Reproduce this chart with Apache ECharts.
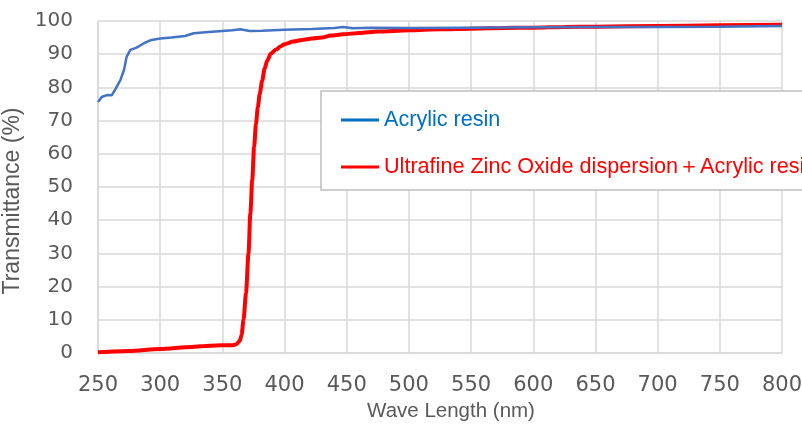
<!DOCTYPE html>
<html>
<head>
<meta charset="utf-8">
<script src="https://cdn.jsdelivr.net/npm/echarts@6/dist/echarts.min.js"></script>
<style>
  html, body { margin: 0; padding: 0; background: #fff; }
  #chart { width: 802px; height: 425px; }
</style>
</head>
<body>
<div id="chart"></div>
<script>
// ---- Data ----
const xTicks = [250, 300, 350, 400, 450, 500, 550, 600, 650, 700, 750, 800];
const yTicks = [0, 10, 20, 30, 40, 50, 60, 70, 80, 90, 100];

const seriesNames = ['Acrylic resin', 'Ultrafine Zinc Oxide dispersion\uFF0BAcrylic resin'];

// Acrylic resin
const acrylicWl = [250, 253, 257, 261, 264, 268, 271, 273, 276, 281, 287, 292, 300, 309, 320, 327, 339, 350, 358, 364.4, 365.7, 372, 382, 400, 422, 440, 447, 455, 470, 500, 550, 600, 650, 700, 750, 800];
const acrylicT  = [75.6, 77.1, 77.7, 77.6, 79.5, 82.2, 85.4, 89.2, 91.3, 92.0, 93.3, 94.2, 94.7, 95.0, 95.5, 96.3, 96.7, 97.0, 97.2, 97.5, 96.9, 97.0, 97.1, 97.4, 97.6, 97.9, 98.2, 97.8, 98.0, 97.9, 98.0, 98.1, 98.2, 98.2, 98.3, 98.5];

// Ultrafine Zinc Oxide dispersion + Acrylic resin
const zincWl = [250, 275, 300, 325, 340, 350, 358, 361, 364, 365.5, 367, 369, 371, 372.5, 374, 375.5, 377, 378.5, 380, 382, 384, 386, 389, 393, 397, 400, 407, 414, 422, 430, 437, 447, 460, 475, 500, 525, 550, 575, 600, 625, 650, 700, 750, 800];
const zincT  = [0.2, 0.6, 1.2, 1.8, 2.2, 2.3, 2.3, 2.6, 3.6, 5.5, 10, 18, 30, 42, 52, 62, 69, 74, 78, 82, 85.7, 88, 90.2, 91.4, 92.4, 93.0, 93.8, 94.3, 94.7, 95.0, 95.6, 96.0, 96.4, 96.8, 97.2, 97.5, 97.7, 97.9, 98.0, 98.2, 98.3, 98.5, 98.7, 98.9];

// ---- Build chart ----
const zip = (xs, ys) => xs.map((x, i) => [x, ys[i]]);
const gridColor = '#d9d9d9';
const textGray = '#595959';

const chart = echarts.init(document.getElementById('chart'), null, { renderer: 'canvas' });
chart.setOption({
  animation: false,
  backgroundColor: '#ffffff',
  grid: { left: 98, right: 20, top: 21, bottom: 72, containLabel: false, outerBoundsMode: 'none' },
  legend: {
    orient: 'vertical',
    left: 321,
    top: 91,
    padding: [18, 40, 12, 20],
    itemGap: 25,
    itemWidth: 38,
    itemHeight: 3,
    icon: 'rect',
    borderColor: '#bfbfbf',
    borderWidth: 1.5,
    backgroundColor: '#ffffff',
    textStyle: { fontFamily: '"Liberation Sans", Arial, sans-serif', fontSize: 21.6, lineHeight: 22 },
    data: [
      { name: seriesNames[0], itemStyle: { color: '#0070C0' }, textStyle: { color: '#0070C0' } },
      { name: seriesNames[1], itemStyle: { color: '#FF0000' }, textStyle: { color: '#FF0000' } }
    ]
  },
  xAxis: {
    type: 'value',
    min: xTicks[0],
    max: xTicks[xTicks.length - 1],
    interval: xTicks[1] - xTicks[0],
    axisLine: { show: true, lineStyle: { color: gridColor, width: 1.5 } },
    axisTick: { show: false },
    splitLine: { show: true, lineStyle: { color: gridColor, width: 1.5 } },
    axisLabel: { color: textGray, fontSize: 21, margin: 22, fontFamily: '"DejaVu Sans", Verdana, sans-serif' },
    name: 'Wave Length (nm)',
    nameLocation: 'middle',
    nameGap: 48,
    nameTextStyle: { color: textGray, fontSize: 20.5, fontFamily: '"Liberation Sans", Arial, sans-serif', padding: [0, 0, 0, 22] }
  },
  yAxis: {
    type: 'value',
    min: yTicks[0],
    max: yTicks[yTicks.length - 1],
    interval: yTicks[1] - yTicks[0],
    axisLine: { show: true, lineStyle: { color: gridColor, width: 1.5 } },
    axisTick: { show: false },
    splitLine: { show: true, lineStyle: { color: gridColor, width: 1.5 } },
    axisLabel: { color: textGray, fontSize: 20, margin: 25, fontFamily: '"DejaVu Sans", Verdana, sans-serif' },
    name: 'Transmittance (%)',
    nameLocation: 'middle',
    nameGap: 63,
    nameTextStyle: { color: textGray, fontSize: 23, fontFamily: '"Liberation Sans", Arial, sans-serif', padding: [0, 28, 0, 0] }
  },
  series: [
    {
      name: seriesNames[0],
      type: 'line',
      showSymbol: false,
      data: zip(acrylicWl, acrylicT),
      lineStyle: { color: '#4472C4', width: 2.5 },
      itemStyle: { color: '#4472C4' },
      z: 3
    },
    {
      name: seriesNames[1],
      type: 'line',
      showSymbol: false,
      smooth: 0.25,
      smoothMonotone: 'x',
      data: zip(zincWl, zincT),
      lineStyle: { color: '#FF0000', width: 4 },
      itemStyle: { color: '#FF0000' },
      z: 2
    }
  ]
});
</script>
</body>
</html>
